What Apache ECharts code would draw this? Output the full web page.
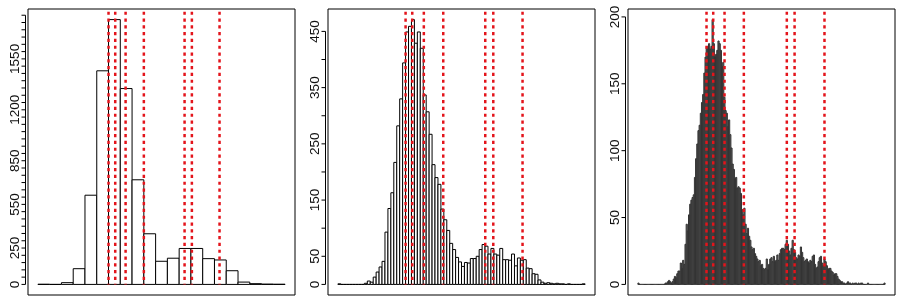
<!DOCTYPE html>
<html><head><meta charset="utf-8">
<script src="https://cdn.jsdelivr.net/npm/echarts@6/dist/echarts.min.js"></script>
<style>html,body{margin:0;padding:0;background:#fff}#c{width:900px;height:300px}</style>
</head><body><div id="c"></div>
<script>
// ---- data (bin counts, bins indexed from 0) ----
const p1Counts = [1,0,12,108,613,1468,1820,1346,719,348,159,180,247,247,177,168,94,16,5,2,1];
const p2Counts = [1,0,0,0,0,0,0,0,0,2,6,4,13,22,31,41,93,135,163,217,282,330,394,449,459,471,429,449,420,337,307,267,213,190,178,134,115,96,73,62,48,40,32,39,38,46,46,50,62,71,68,54,64,54,52,64,44,44,43,54,33,47,43,44,29,28,19,18,8,4,2,3,2,1,2,1,1,0,1,0,0,0,0,1];
const p3Counts = [1,0,0,0,0,0,0,0,0,0, 0,0,0,0,0,0,0,0,0,0, 0,0,0,1,1,2,3,2,1,2,
  4,6,5,8,10,10,16,12,18,15, 30,45,40,52,60,63,65,67,80,94, 105,115,119,128,136,142,158,170,177,178,
  180,176,178,198,180,170,172,175,182,180, 175,163,166,140,130,128,118,123,112,102, 90,86,79,80,72,73,72,68,56,52,
  57,45,38,42,36,33,28,26,27,23, 21,19,17,18,14,15,12,11,12,19, 11,15,19,20,17,21,17,18,22,18,
  23,26,27,27,26,30,33,30,25,22, 27,33,26,24,20,19,22,21,28,24, 20,17,18,19,17,16,18,17,21,22,
  15,12,13,17,20,21,16,14,19,17, 14,11,12,12,10,9,7,8,8,6, 4,3,2,2,1,1,0,1,2,1,
  1,0,1,0,1,1,0,1,0,1, 1,0,0,0,0,1,0,0,0,0, 0,0,0,0,0,0,0,0,0,1];
// vertical reference lines (in bin units of each panel)
const p1Lines = [6.00, 6.57, 7.45, 9.00, 12.46, 13.08, 15.43];
const p2Lines = [23.0, 25.27, 29.2, 35.8, 50.07, 52.8, 62.74];
const p3Lines = [58.3, 64.0, 73.6, 90.0, 126.5, 133.1, 158.5];
// y-axis tick labels shown
const p1Labels = [0, 250, 550, 850, 1200, 1550];
const p2Labels = [0, 50, 150, 250, 350, 450];
const p3Labels = [0, 50, 100, 150, 200];
const tickStep = [50, 50, 50];

// ---- styles ----
const panels = [
  {counts: p1Counts, lines: p1Lines, labels: p1Labels, step: tickStep[0], fill: '#ffffff', stroke: '#000000'},
  {counts: p2Counts, lines: p2Lines, labels: p2Labels, step: tickStep[1], fill: '#ffffff', stroke: '#000000'},
  {counts: p3Counts, lines: p3Lines, labels: p3Labels, step: tickStep[2], fill: '#6a6a6a', stroke: '#333333'}
];
const lineTopFrac = 1.03;
const font = "'Liberation Sans', Arial, Helvetica, sans-serif";
const axisGap = 3.5, tickLen = 4;

const chart = echarts.init(document.getElementById('c'), null, {renderer: 'canvas'});
const grid = [], xAxis = [], yAxis = [], series = [];
panels.forEach((p, k) => {
  const n = p.counts.length;
  const m = Math.max(...p.counts);
  const ymin = -0.04 * m, ymax = 1.04 * m;
  const ticks = [];
  for (let v = 0; v <= ymax; v += p.step) ticks.push(v);
  const tickTop = ticks[ticks.length - 1];
  grid.push({left: 28 + 300 * k, top: 9, width: 267, height: 286, show: true,
    borderColor: '#000', borderWidth: 1, backgroundColor: 'transparent'});
  xAxis.push({gridIndex: k, type: 'value', min: -0.04 * n, max: 1.04 * n, show: false});
  yAxis.push({gridIndex: k, type: 'value', min: ymin, max: ymax, offset: axisGap,
    axisLine: {show: false}, splitLine: {show: false}, axisTick: {show: false},
    axisLabel: {customValues: p.labels, rotate: 90, margin: 2, fontSize: 13.5, color: '#111',
      fontFamily: font, formatter: v => String(v)}
  });
  // bars
  series.push({type: 'custom', xAxisIndex: k, yAxisIndex: k,
    data: p.counts.map((c, i) => [i, c]),
    renderItem: (params, api) => {
      const i = api.value(0), c = api.value(1);
      const a = api.coord([i, 0]), b = api.coord([i + 1, c]);
      return {type: 'rect', shape: {x: a[0], y: b[1], width: b[0] - a[0], height: a[1] - b[1]},
        style: {fill: p.fill, stroke: p.stroke, lineWidth: 1}};
    }, silent: true, animation: false});
  // axis line from 0 to top tick + tick marks (R style)
  series.push({type: 'custom', xAxisIndex: k, yAxisIndex: k, clip: false,
    data: ticks.map(v => [v, tickTop]),
    renderItem: (params, api) => {
      const v = api.value(0);
      const a = api.coord([-0.04 * n, v]);
      const x = Math.round(a[0] - axisGap) + 0.5;
      const children = [{type: 'line', shape: {x1: x - tickLen, y1: a[1], x2: x, y2: a[1]},
        style: {stroke: '#000', lineWidth: 1}}];
      if (params.dataIndex === 0) {
        const b = api.coord([-0.04 * n, api.value(1)]);
        children.push({type: 'line', shape: {x1: x, y1: a[1], x2: x, y2: b[1]}, style: {stroke: '#000', lineWidth: 1}});
      }
      return {type: 'group', children};
    }, silent: true, animation: false});
  // red dotted lines
  series.push({type: 'custom', xAxisIndex: k, yAxisIndex: k,
    data: p.lines.map(v => [v]),
    renderItem: (params, api) => {
      const v = api.value(0);
      const a = api.coord([v, 0]), b = api.coord([v, m * lineTopFrac]);
      return {type: 'line', shape: {x1: a[0], y1: b[1], x2: a[0], y2: a[1]},
        style: {stroke: '#e3141b', lineWidth: 2.5, lineDash: [3.2, 3.6]}};
    }, silent: true, animation: false, z: 5});
});
chart.setOption({animation: false, grid, xAxis, yAxis, series});
</script></body></html>
